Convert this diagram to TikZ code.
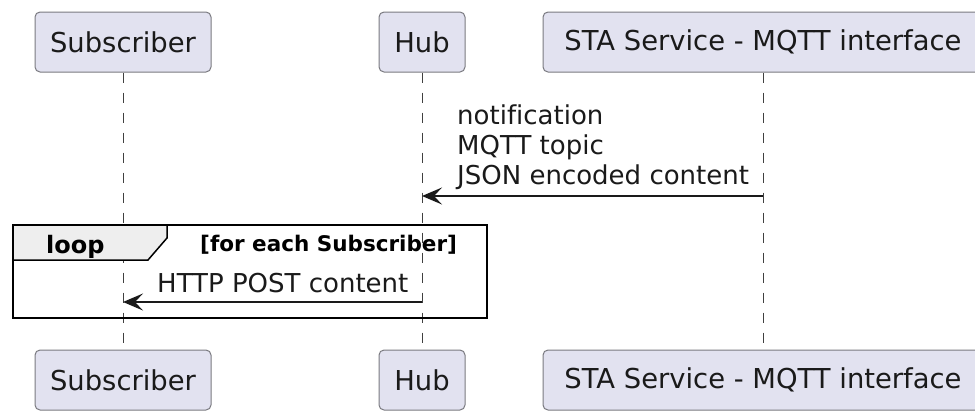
\documentclass[tikz,border=0pt]{standalone}
\usepackage{fontspec}
\setmainfont[Ligatures=NoCommon]{DejaVu Sans}
\usetikzlibrary{arrows.meta}
\definecolor{actorfill}{HTML}{E2E2F0}
\definecolor{actorline}{HTML}{7A7A80}
\definecolor{tabfill}{HTML}{EEEEEE}
\definecolor{ink}{HTML}{1A1A1A}
\begin{document}
\begin{tikzpicture}[x=1pt,y=-1pt,
  actor/.style={draw=actorline, line width=1pt, fill=actorfill, rounded corners=5pt,
    minimum height=60pt, inner sep=0pt, text=ink, font=\fontsize{27.4}{30}\selectfont},
  lifeline/.style={draw=black!75, line width=1pt, dash pattern=on 10pt off 10pt},
  msg/.style={draw=ink, line width=1.5pt, -{Stealth[length=20pt,width=17pt,inset=8pt]}},
  msgtext/.style={font=\fontsize{26}{30}\selectfont, text=ink, inner sep=0pt, anchor=base west},
  frame/.style={draw=black, line width=2pt},
  tab/.style={draw=black, line width=1.5pt, fill=tabfill},
]
\useasboundingbox (0,0) rectangle (975,410);
\clip (0,0) rectangle (975,410);
\fill[white] (0,0) rectangle (975,410);

% participants, top row
\node[actor, minimum width=176pt] (subT) at (123,42) {Subscriber};
\node[actor, minimum width=86pt]  (hubT) at (422,42) {Hub};
\node[actor, minimum width=440pt] (staT) at (763,42) {STA Service - MQTT interface};

% participants, bottom row
\node[actor, minimum width=176pt] (subB) at (123,380) {Subscriber};
\node[actor, minimum width=86pt]  (hubB) at (422,380) {Hub};
\node[actor, minimum width=440pt] (staB) at (763,380) {STA Service - MQTT interface};

% lifelines
\draw[lifeline] (subT.south) -- (subB.north);
\draw[lifeline] (hubT.south) -- (hubB.north);
\draw[lifeline] (staT.south) -- (staB.north);

% notification from the service to the hub
\coordinate (m1s) at (763,196);
\coordinate (m1e) at (422,196);
\draw[msg] (m1s) -- (m1e);
\node[msgtext] (m1a) at (457,124) {notification};
\node[msgtext] (m1b) at (457,154) {MQTT topic};
\node[msgtext] (m1c) at (457,184.5) {JSON encoded content};

% loop fragment
\draw[tab] (13,225) -- (167,225) -- (167,238) -- (148,260) -- (13,260) -- cycle;
\node[font=\fontsize{24}{28}\selectfont\bfseries, inner sep=0pt, anchor=base west] (looplbl) at (46,253) {loop};
\node[font=\fontsize{21.5}{26}\selectfont\bfseries, inner sep=0pt, anchor=base west] (loopcond) at (200,251) {[for each Subscriber]};
\draw[frame] (13,225) rectangle (487,318);

% delivery from the hub to each subscriber
\coordinate (m2s) at (422,302);
\coordinate (m2e) at (123,302);
\draw[msg] (m2s) -- (m2e);
\node[msgtext] (m2a) at (157,292) {HTTP POST content};
\end{tikzpicture}
\end{document}
